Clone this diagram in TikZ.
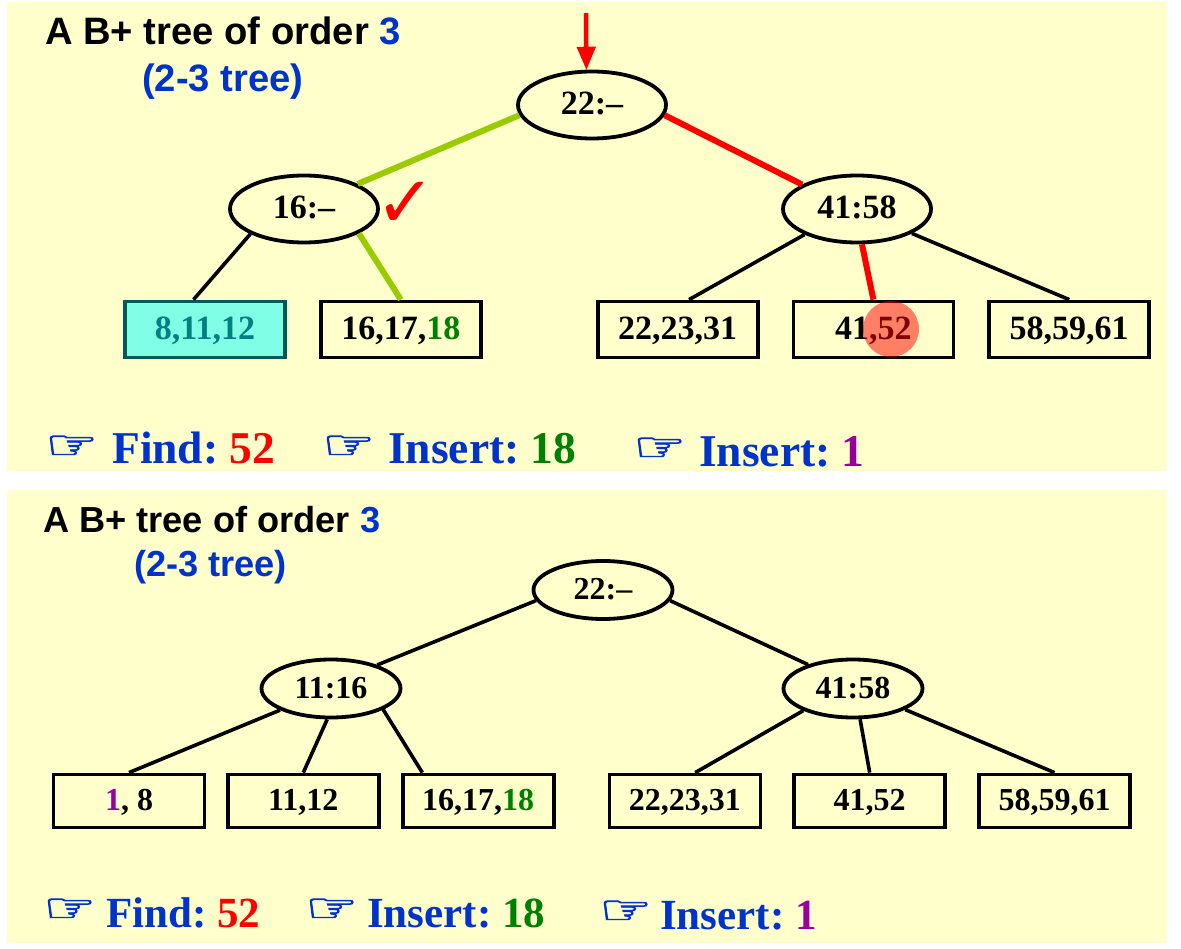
\documentclass[tikz,border=0pt]{standalone}
\usepackage{fontspec}
\usepackage{graphicx}
\setmainfont{Liberation Serif}
\newfontfamily\titlefont{Liberation Sans}
\newfontfamily\symbolfont[FakeBold=2]{DejaVu Sans}
\newfontfamily\tickfont{DejaVu Sans}
\usetikzlibrary{shapes,arrows,positioning}
\definecolor{panel}{HTML}{FFFFCC}
\definecolor{navy}{HTML}{0033CC}
\definecolor{lime}{HTML}{99CC00}
\definecolor{leafgreen}{HTML}{008000}
\definecolor{violet}{HTML}{990099}
\definecolor{teal}{HTML}{008080}
\definecolor{aqua}{HTML}{80FFE6}
\newcommand{\pointer}{\scalebox{1.23}[0.85]{☞}}
\tikzstyle{bigkey} = [ellipse, draw, line width=3.8pt, inner sep=0pt, minimum width=148pt, minimum height=67pt, text height=19.5pt, text depth=0pt, font=\fontsize{34}{36}\selectfont\bfseries]
\tikzstyle{smallkey} = [ellipse, draw, line width=3.8pt, inner sep=0pt, minimum width=139pt, minimum height=58pt, text height=19pt, text depth=0pt, font=\fontsize{32}{34}\selectfont\bfseries]
\tikzstyle{bigleaf} = [rectangle, draw, line width=3.8pt, inner sep=0pt, minimum width=160pt, minimum height=56pt, text height=19.5pt, text depth=0pt, font=\fontsize{34}{36}\selectfont\bfseries]
\tikzstyle{smallleaf} = [rectangle, draw, line width=3.8pt, inner sep=0pt, minimum width=151pt, minimum height=53pt, text height=19pt, text depth=0pt, font=\fontsize{32}{34}\selectfont\bfseries]
\tikzstyle{link} = [line width=3.6pt]
\tikzstyle{route} = [line width=6pt]
\tikzstyle{bigtitle} = [anchor=base west, inner sep=0pt, font=\fontsize{38.2}{40}\selectfont\titlefont\bfseries]
\tikzstyle{smalltitle} = [anchor=base west, inner sep=0pt, font=\fontsize{36.2}{38}\selectfont\titlefont\bfseries]
\tikzstyle{bigtask} = [anchor=base west, inner sep=0pt, text=navy, font=\fontsize{45.5}{48}\selectfont\bfseries]
\tikzstyle{smalltask} = [anchor=base west, inner sep=0pt, text=navy, font=\fontsize{43}{46}\selectfont\bfseries]
\tikzstyle{hand} = [anchor=base west, inner sep=0pt, text=navy, font=\fontsize{48}{50}\selectfont\symbolfont]
\begin{document}
\begin{tikzpicture}[x=1pt,y=-1pt]
    \useasboundingbox (0,0) rectangle (1181,949);
    \fill [panel] (7,2) rectangle (1167,471);
    \fill [panel] (7,490) rectangle (1167,943);

    % first tree
    \node [bigtitle] (titleone) at (45,45) {A B+ tree of order \textcolor{navy}{3}};
    \node [bigtitle, text=navy] (subone) at (142,92) {(2-3 tree)};
    \coordinate (start) at (586,13);
    \node [bigkey] (root) at (592,105) {22:--};
    \node [bigkey] (left) at (304,209) {16:--};
    \node [bigkey] (right) at (857,209) {41:58};
    \node [text=red, inner sep=0pt, font=\fontsize{72}{74}\selectfont\tickfont] (tick) at (406,205) {✓};
    \node [bigleaf, draw=teal!70!black, fill=aqua, text=teal] (la) at (205,329.5) {8,11,12};
    \node [bigleaf, right=32pt of la] (lb) {16,17,\textcolor{leafgreen}{18}};
    \node [bigleaf, right=113pt of lb] (lc) {22,23,31};
    \node [bigleaf, right=32pt of lc] (ld) {41,52};
    \node [bigleaf, right=32pt of ld] (le) {58,59,61};

    \draw [-triangle 45, red, line width=4.5pt] (start) -- (root.99);
    \draw [route, lime] (root.188) -- (left.25);
    \draw [route, red] (root.352) -- (right.156);
    \draw [link] (left.205) -- (la.111);
    \draw [route, lime] (left.336) -- (lb.north);
    \draw [link] (right.206) -- (lc.69);
    \draw [route, red] (right.278) -- (ld.north);
    \draw [link] (right.336) -- (le.north);
    \node [circle, fill=red, opacity=0.5, inner sep=0pt, minimum size=56pt] (hit) at (891,329) {};

    \node [hand] (handa) at (45,459) {\pointer};
    \node [bigtask] (finda) at (112,464) {Find:\hspace{.25em}\textcolor{red}{52}};
    \node [hand] (handb) at (322,459) {\pointer};
    \node [bigtask] (inserta) at (388,464) {Insert:\hspace{.25em}\textcolor{leafgreen}{18}};
    \node [hand] (handc) at (633,461) {\pointer};
    \node [bigtask] (insertb) at (699,466) {Insert:\hspace{.25em}\textcolor{violet}{1}};

    % second tree
    \node [smalltitle] (titletwo) at (43,532) {A B+ tree of order \textcolor{navy}{3}};
    \node [smalltitle, text=navy] (subtwo) at (134,576) {(2-3 tree)};
    \node [smallkey] (rootb) at (603,590) {22:--};
    \node [smallkey] (leftb) at (331,688.5) {11:16};
    \node [smallkey] (rightb) at (853,688.5) {41:58};
    \node [smallleaf] (ma) at (129,801) {\textcolor{violet}{1}, 8};
    \node [smallleaf, right=19.5pt of ma] (mb) {11,12};
    \node [smallleaf, right=20pt of mb] (mc) {16,17,\textcolor{leafgreen}{18}};
    \node [smallleaf, right=52pt of mc] (md) {22,23,31};
    \node [smallleaf, right=30pt of md] (me) {41,52};
    \node [smallleaf, right=30pt of me] (mf) {58,59,61};

    \draw [link] (rootb.189) -- (leftb.27);
    \draw [link] (rootb.351) -- (rightb.152);
    \draw [link] (leftb.203) -- (ma.north);
    \draw [link] (leftb.263) -- (mb.north);
    \draw [link] (leftb.338) -- (mc.153);
    \draw [link] (rightb.204) -- (md.70);
    \draw [link] (rightb.283) -- (me.north);
    \draw [link] (rightb.338) -- (mf.north);

    \node [hand] (handd) at (43,922) {\pointer};
    \node [smalltask] (findb) at (106,927) {Find:\hspace{.25em}\textcolor{red}{52}};
    \node [hand] (hande) at (305,922) {\pointer};
    \node [smalltask] (insertc) at (367,927) {Insert:\hspace{.25em}\textcolor{leafgreen}{18}};
    \node [hand] (handf) at (599,924) {\pointer};
    \node [smalltask] (insertd) at (660,929) {Insert:\hspace{.25em}\textcolor{violet}{1}};
\end{tikzpicture}
\end{document}
